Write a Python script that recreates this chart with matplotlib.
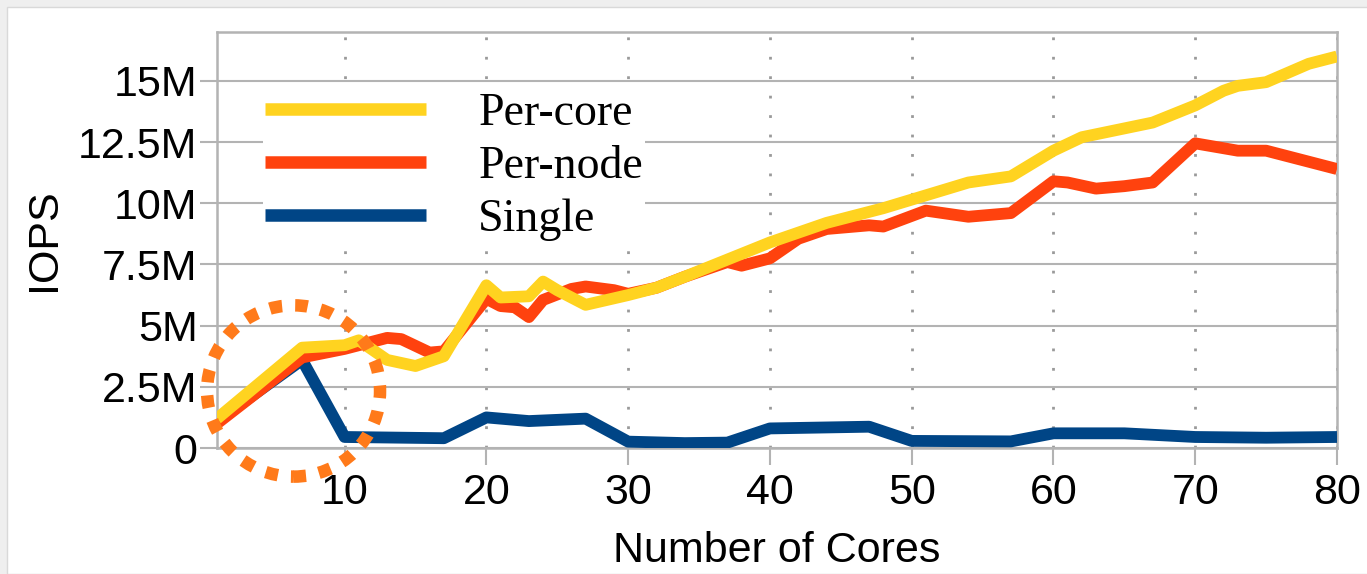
import matplotlib
matplotlib.use("Agg")
import matplotlib.pyplot as plt
from matplotlib.patches import Ellipse, Rectangle
from matplotlib.ticker import FixedLocator, FixedFormatter

# IOPS (millions) versus number of cores
per_core_x = [1, 7, 10, 11, 13, 15, 17, 20, 21, 23, 24, 25, 27, 30, 32, 34, 37,
              40, 44, 48, 50, 54, 57, 60, 62, 67, 70, 72, 73, 75, 78, 80]
per_core_y = [1.2, 4.1, 4.2, 4.4, 3.6, 3.35, 3.75, 6.65, 6.15, 6.2, 6.8, 6.45, 5.85,
              6.25, 6.55, 7.0, 7.7, 8.4, 9.2, 9.8, 10.15, 10.85, 11.1, 12.15, 12.7,
              13.3, 14.0, 14.6, 14.8, 14.95, 15.7, 16.0]

per_node_x = [1, 7, 10, 13, 14, 16, 17, 20, 21, 22, 23, 24, 26, 27, 29, 30, 32, 34,
              37, 38, 40, 42, 44, 47, 48, 51, 54, 57, 60, 61, 63, 65, 67, 70, 73,
              75, 80]
per_node_y = [1.0, 3.7, 4.05, 4.5, 4.45, 3.9, 3.95, 6.1, 5.8, 5.75, 5.35, 6.05, 6.5,
              6.6, 6.45, 6.3, 6.55, 7.0, 7.6, 7.45, 7.75, 8.55, 8.95, 9.1, 9.05, 9.7,
              9.45, 9.6, 10.9, 10.85, 10.6, 10.7, 10.85, 12.45, 12.15, 12.15, 11.4]

single_x = [1, 7, 10, 17, 20, 23, 27, 30, 34, 37, 40, 47, 50, 57, 60, 65, 70, 75, 80]
single_y = [1.1, 3.6, 0.45, 0.4, 1.25, 1.1, 1.2, 0.26, 0.2, 0.22, 0.8, 0.87, 0.29,
            0.27, 0.6, 0.6, 0.45, 0.42, 0.45]

x_ticks = [10, 20, 30, 40, 50, 60, 70, 80]
y_ticks = [0, 2.5, 5, 7.5, 10, 12.5, 15]
y_tick_labels = ["0", "2.5M", "5M", "7.5M", "10M", "12.5M", "15M"]

series_names = ["Per-core", "Per-node", "Single"]
series_colors = ["#FFD320", "#FF420E", "#004586"]
highlight_color = "#FF7A1A"
grid_color = "#b3b3b3"

W, H, DPI = 1367, 574, 100
fig = plt.figure(figsize=(W / DPI, H / DPI), dpi=DPI, facecolor="#efefef")
fig.patches.append(Rectangle((7 / W, 0), 1, 1 - 7 / H, transform=fig.transFigure,
                             facecolor="white", edgecolor="#d9d9d9", linewidth=1,
                             zorder=-5))

ax = fig.add_axes([217 / W, 1 - 448 / H, (1337 - 217) / W, (448 - 32) / H])
ax.set_facecolor("white")

sans = ["Liberation Sans", "DejaVu Sans"]
serif = ["Liberation Serif", "DejaVu Serif"]

lw = 8.5
l_single, = ax.plot(single_x, single_y, color=series_colors[2], lw=lw,
                    solid_joinstyle="round", solid_capstyle="butt", zorder=3)
l_node, = ax.plot(per_node_x, per_node_y, color=series_colors[1], lw=lw,
                  solid_joinstyle="round", solid_capstyle="butt", zorder=4)
l_core, = ax.plot(per_core_x, per_core_y, color=series_colors[0], lw=lw,
                  solid_joinstyle="round", solid_capstyle="butt", zorder=5)

ax.set_xlim(1, 80)
ax.set_ylim(0, 17)

ax.xaxis.set_major_locator(FixedLocator(x_ticks))
ax.yaxis.set_major_locator(FixedLocator(y_ticks))
ax.yaxis.set_major_formatter(FixedFormatter(y_tick_labels))

ax.grid(axis="y", color=grid_color, linewidth=1.5, zorder=1)
ax.grid(axis="x", color="#9a9a9a", linewidth=2.0, linestyle=(0, (1, 6)), zorder=1)
ax.set_axisbelow(True)

for s in ax.spines.values():
    s.set_color(grid_color)
    s.set_linewidth(1.8)

ax.tick_params(axis="both", direction="out", length=12, width=1.5, color=grid_color,
               labelsize=31, labelcolor="black")
ax.tick_params(axis="x", pad=6)
ax.tick_params(axis="y", pad=2)
for lab in ax.get_xticklabels() + ax.get_yticklabels():
    lab.set_fontfamily(sans)

ax.set_xlabel("Number of Cores", fontsize=31, family=sans, labelpad=13)
ax.set_ylabel("IOPS", fontsize=31, family=sans, labelpad=10)

leg = ax.legend([l_core, l_node, l_single], series_names, loc="upper left",
                bbox_to_anchor=(0.041, 0.859), borderaxespad=0, borderpad=0.05,
                handlelength=3.5, handletextpad=1.15, labelspacing=0.22,
                frameon=True, fancybox=False, framealpha=1, edgecolor="none",
                facecolor="white", prop={"family": serif, "size": 33})
leg.set_zorder(6)
for h in leg.get_lines():
    h.set_linewidth(9)
    h.set_solid_capstyle("butt")

ring = Ellipse((6.4, 2.33), width=12.2, height=7.0, fill=False,
               edgecolor=highlight_color, linewidth=9, linestyle=(0, (1, 1.05)),
               capstyle="butt", clip_on=False, zorder=8)
ax.add_patch(ring)

fig.savefig("out.png", dpi=DPI, facecolor=fig.get_facecolor())
